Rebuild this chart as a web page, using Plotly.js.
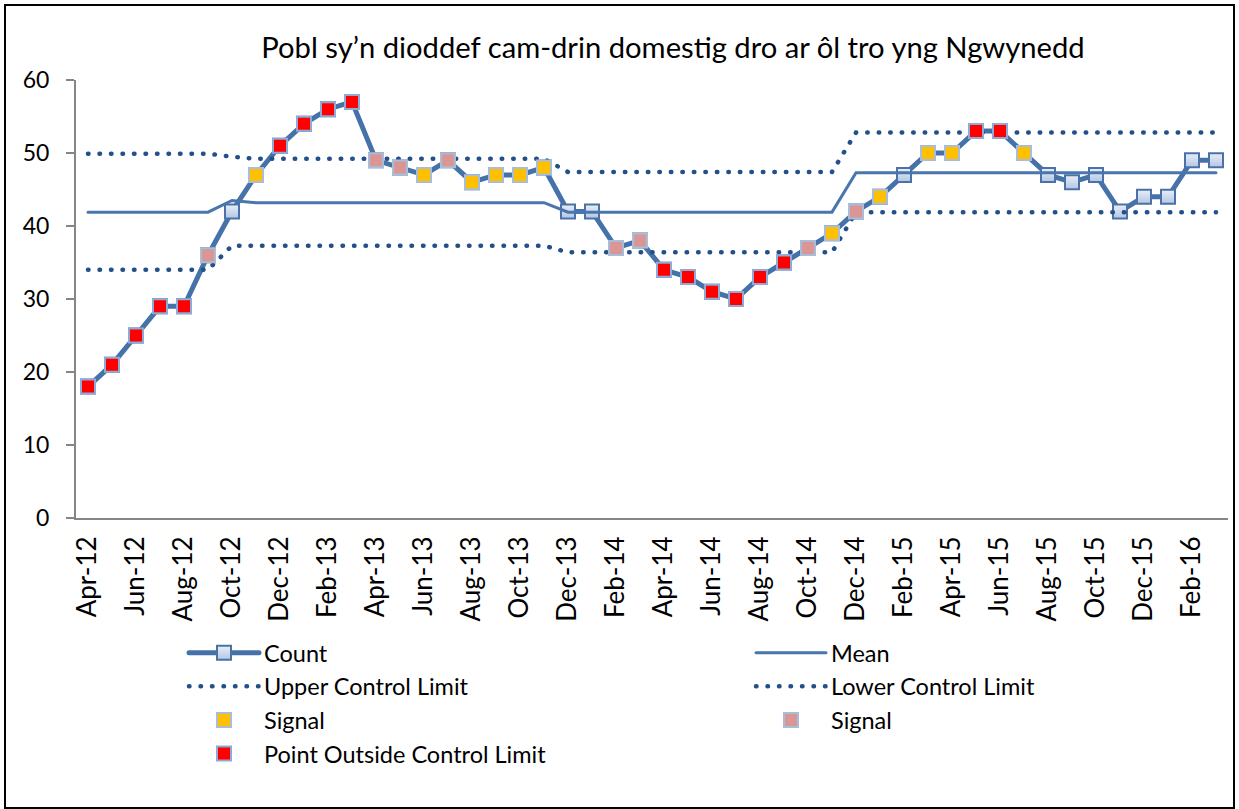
<!DOCTYPE html>
<html><head><meta charset="utf-8">
<script src="https://cdn.plot.ly/plotly-3.0.1.min.js"></script>
<style>
html,body{margin:0;padding:0;background:#fff;}
#chart{width:1239px;height:809px;}
.js-line{stroke-linecap:round;}
</style></head><body><div id="chart"></div>
<script>
const months = ['Apr-12','May-12','Jun-12','Jul-12','Aug-12','Sep-12','Oct-12','Nov-12','Dec-12',
  'Jan-13','Feb-13','Mar-13','Apr-13','May-13','Jun-13','Jul-13','Aug-13','Sep-13','Oct-13','Nov-13','Dec-13',
  'Jan-14','Feb-14','Mar-14','Apr-14','May-14','Jun-14','Jul-14','Aug-14','Sep-14','Oct-14','Nov-14','Dec-14',
  'Jan-15','Feb-15','Mar-15','Apr-15','May-15','Jun-15','Jul-15','Aug-15','Sep-15','Oct-15','Nov-15','Dec-15',
  'Jan-16','Feb-16','Mar-16'];
const count = [18,21,25,29,29,36,42,47,51,54,56,57,49,48,47,49,46,47,47,48,42,42,37,38,
  34,33,31,30,33,35,37,39,42,44,47,50,50,53,53,50,47,46,47,42,44,44,49,49];
const mean = [41.9,41.9,41.9,41.9,41.9,41.9,43.5,
  43.2,43.2,43.2,43.2,43.2,43.2,43.2,43.2,43.2,43.2,43.2,43.2,43.2,
  41.9,41.9,41.9,41.9,41.9,41.9,41.9,41.9,41.9,41.9,41.9,41.9,
  47.3,47.3,47.3,47.3,47.3,47.3,47.3,47.3,47.3,47.3,47.3,47.3,47.3,47.3,47.3,47.3];
const ucl = [49.9,49.9,49.9,49.9,49.9,49.9,49.5,
  49.2,49.2,49.2,49.2,49.2,49.2,49.2,49.2,49.2,49.2,49.2,49.2,49.2,
  47.4,47.4,47.4,47.4,47.4,47.4,47.4,47.4,47.4,47.4,47.4,47.4,
  52.8,52.8,52.8,52.8,52.8,52.8,52.8,52.8,52.8,52.8,52.8,52.8,52.8,52.8,52.8,52.8];
const lcl = [34.0,34.0,34.0,34.0,34.0,34.0,37.3,
  37.3,37.3,37.3,37.3,37.3,37.3,37.3,37.3,37.3,37.3,37.3,37.3,37.3,
  36.4,36.4,36.4,36.4,36.4,36.4,36.4,36.4,36.4,36.4,36.4,36.4,
  41.9,41.9,41.9,41.9,41.9,41.9,41.9,41.9,41.9,41.9,41.9,41.9,41.9,41.9,41.9,41.9];
// Y = signal (yellow), P = signal (pink), R = point outside control limit, B = plain
const pointStatus = ['R','R','R','R','R','P','B','Y','R','R','R','R','P','P','Y','P','Y','Y','Y','Y',
  'B','B','P','P','R','R','R','R','R','R','P','Y','P','Y','B','Y','Y','R','R','Y',
  'B','B','B','B','B','B','B','B'];
const titleText = 'Pobl sy’n dioddef cam-drin domestig dro ar ôl tro yng Ngwynedd';
const seriesNames = ['Count','Mean','Upper Control Limit','Lower Control Limit','Signal','Signal','Point Outside Control Limit'];

const FONT = 'Lato, "Open Sans", sans-serif';
const pick = code => count.map((v,i) => pointStatus[i] === code ? v : null);
const tickVals = months.filter((m,i) => i % 2 === 0);

const sigBorder = '#a9bdd9';
const traces = [
  {x: months, y: count, name: seriesNames[0], mode: 'lines+markers',
   line: {color: '#4672aa', width: 5},
   marker: {symbol: 'square', size: 14, color: '#e9eef8',
            gradient: {type: 'vertical', color: '#b3c6e4'},
            line: {color: '#4a72a8', width: 2}}},
  {x: months, y: mean, name: seriesNames[1], mode: 'lines', line: {color: '#4876ad', width: 3}},
  {x: months, y: ucl, name: seriesNames[2], mode: 'lines', line: {color: '#24508a', width: 4.5, dash: '0.5px,11px'}},
  {x: months, y: lcl, name: seriesNames[3], mode: 'lines', line: {color: '#24508a', width: 4.5, dash: '0.5px,11px'}},
  {x: months, y: pick('Y'), name: seriesNames[4], mode: 'markers',
   marker: {symbol: 'square', size: 14, color: '#ffc000', line: {color: sigBorder, width: 2}}},
  {x: months, y: pick('P'), name: seriesNames[5], mode: 'markers',
   marker: {symbol: 'square', size: 14, color: '#d99694', line: {color: sigBorder, width: 2}}},
  {x: months, y: pick('R'), name: seriesNames[6], mode: 'markers',
   marker: {symbol: 'square', size: 14, color: '#ff0000', line: {color: '#8eaad6', width: 2}}}
];

const W = 1239, H = 809, L = 76, R = 11, T = 80, B = 291;
const pw = W - L - R, ph = H - T - B;
const layout = {
  width: W, height: H,
  margin: {l: L, r: R, t: T, b: B, autoexpand: false},
  paper_bgcolor: '#fff', plot_bgcolor: '#fff',
  font: {family: FONT, color: '#000'},
  showlegend: true,
  title: {text: titleText, x: 673 / W, xanchor: 'center', y: 1 - 48 / H, yanchor: 'middle',
          font: {family: FONT, size: 29.2, color: '#000'}},
  xaxis: {type: 'category', range: [-0.5, months.length - 0.5],
          tickmode: 'array', tickvals: tickVals, ticktext: tickVals,
          tickangle: -90, ticks: '', showgrid: false, zeroline: false,
          showline: true, linecolor: '#868686', linewidth: 2,
          ticklabelstandoff: 6, tickfont: {family: FONT, size: 26, color: '#000'}},
  yaxis: {range: [0, 60], dtick: 10, tick0: 0, ticks: 'outside', ticklen: 8,
          tickcolor: '#868686', tickwidth: 1.5, showgrid: false, zeroline: false,
          showline: true, linecolor: '#868686', linewidth: 2,
          ticklabelstandoff: 12, tickfont: {family: FONT, size: 23, color: '#000'}},
  legend: {orientation: 'h', x: (184 - L) / pw, xanchor: 'left',
           y: (518 - 631) / ph, yanchor: 'top',
           entrywidth: 482, entrywidthmode: 'pixels', itemwidth: 70,
           traceorder: 'normal', bgcolor: 'rgba(0,0,0,0)',
           font: {family: FONT, size: 23.5, color: '#000'}},
  shapes: [{type: 'rect', xref: 'paper', yref: 'paper', layer: 'above',
            x0: (5 - L) / pw, x1: (1234 - L) / pw, y0: (518 - 808) / ph, y1: (518 - 5) / ph,
            line: {color: '#000', width: 2}, fillcolor: 'rgba(0,0,0,0)'}]
};
Plotly.newPlot('chart', traces, layout, {displayModeBar: false, staticPlot: true});
</script></body></html>
